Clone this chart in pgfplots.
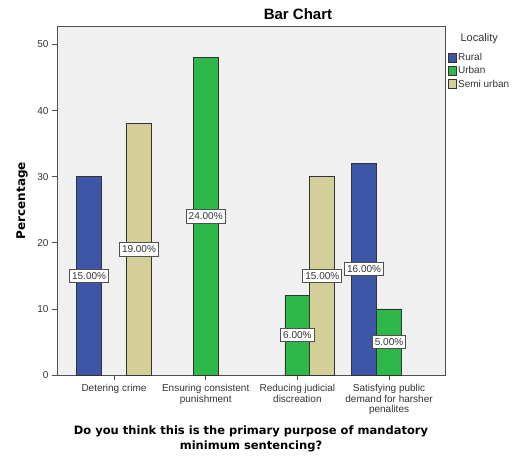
\documentclass[border=0pt]{standalone}
\usepackage{pgfplots}
\pgfplotsset{compat=1.18}
\usepackage{fontspec}
\setmainfont{Liberation Sans}
\newfontfamily\lblfont{DejaVu Sans}
\definecolor{rural}{HTML}{3E56A8}
\definecolor{urban}{HTML}{2EB84A}
\definecolor{semi}{HTML}{D4CF98}
\definecolor{bg}{HTML}{F0F0F0}
\definecolor{frame}{HTML}{505050}
\definecolor{barline}{HTML}{333333}
\definecolor{ticktext}{HTML}{333333}
\begin{document}
\begin{tikzpicture}
\useasboundingbox (-57pt,-81pt) rectangle (458pt,375pt);
\begin{axis}[
  scale only axis, width=388pt, height=349pt,
  at={(0pt,0pt)}, anchor=south west,
  xmin=-0.622, xmax=3.61, ymin=0, ymax=52.8,
  axis background/.style={fill=bg},
  axis line style={frame, line width=0.8pt},
  xtick={0,1,2,3},
  xticklabels={Detering crime,{Ensuring consistent\\punishment},{Reducing judicial\\discreation},{Satisfying public\\demand for harsher\\penalites}},
  xticklabel style={align=center, font=\fontsize{10}{10.5}\selectfont, text=ticktext, yshift=-1pt},
  ytick={0,10,20,30,40,50},
  yticklabel style={font=\fontsize{10}{11}\selectfont, text=ticktext},
  /pgf/number format/assume math mode=true,
  tick align=outside, xtick pos=bottom, ytick pos=left,
  major tick length=5pt,
  tick style={frame, line width=0.8pt},
  ylabel={Percentage},
  ylabel style={at={(axis description cs:-0.090,0.5)}, anchor=center, font=\lblfont\bfseries\fontsize{12}{14}\selectfont},
  xlabel={Do you think this is the primary purpose of mandatory\\minimum sentencing?},
  xlabel style={at={(axis description cs:0.5,-0.183)}, anchor=center, align=center, font=\lblfont\bfseries\fontsize{11.5}{15.5}\selectfont},
  legend cell align=left,
  legend image code/.code={\draw[#1, line width=0.6pt] (0pt,-4.5pt) rectangle (8pt,4.5pt);},
  legend style={at={(axis description cs:1.006,0.928)}, anchor=north west, draw=none, fill=none, inner sep=0pt,
    font=\fontsize{10}{11}\selectfont, text=ticktext, row sep=0.5pt,
    /tikz/every even column/.append style={column sep=2pt}},
  label nodes/.style={nodes near coords, point meta=explicit symbolic, nodes near coords align=center,
    every node near coord/.append style={anchor=center, draw=frame, fill=white, line width=0.8pt, inner xsep=2.5pt, inner ysep=3pt,
    font=\fontsize{10}{11}\selectfont, text=ticktext}},
]
\addplot[ybar, bar width=0.272, bar shift=-0.272, fill=rural, draw=barline, line width=0.8pt] coordinates {(0,30) (3,32)};
\addlegendentry{Rural}
\addplot[ybar, bar width=0.272, bar shift=0, fill=urban, draw=barline, line width=0.8pt] coordinates {(1,48) (2,12) (3,10)};
\addlegendentry{Urban}
\addplot[ybar, bar width=0.272, bar shift=0.272, fill=semi, draw=barline, line width=0.8pt] coordinates {(0,38) (2,30)};
\addlegendentry{Semi urban}
% data labels
\addplot[draw=none, mark=none, forget plot, label nodes] coordinates {(-0.272,15) [15.00\%] (2.728,16) [16.00\%]};
\addplot[draw=none, mark=none, forget plot, label nodes] coordinates {(1,24) [24.00\%] (2,6) [6.00\%] (3,5) [5.00\%]};
\addplot[draw=none, mark=none, forget plot, label nodes] coordinates {(0.272,19) [19.00\%] (2.272,15) [15.00\%]};
\end{axis}
\node[anchor=center, font=\bfseries\fontsize{15}{17}\selectfont] at (241pt,361pt) {Bar Chart};
\node[anchor=west, font=\fontsize{11}{12}\selectfont, text=ticktext] at (400pt,336pt) {Locality};
\end{tikzpicture}
\end{document}
